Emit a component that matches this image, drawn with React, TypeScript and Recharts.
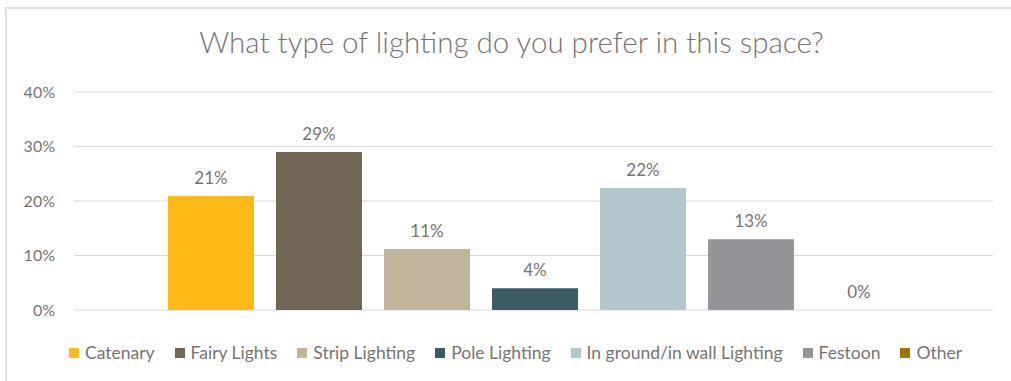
import { BarChart, Bar, XAxis, YAxis, CartesianGrid, LabelList } from 'recharts';

// lighting preference survey, one share per option
const OPTIONS = [
  'Catenary',
  'Fairy Lights',
  'Strip Lighting',
  'Pole Lighting',
  'In ground/in wall Lighting',
  'Festoon',
  'Other',
];
const SHARES = [0.209, 0.29, 0.112, 0.04, 0.224, 0.13, 0];
const COLORS = ['#FDB918', '#716556', '#C2B49A', '#3E5C68', '#B3C6CC', '#949598', '#A27500'];
const Y_TICKS = [0, 0.1, 0.2, 0.3, 0.4];

const TITLE = 'What type of lighting do you prefer in this space?';
const TEXT = '#787373';
const GRID = '#D9D9D9';
const FONT = 'Lato, "Open Sans", sans-serif';

const row: Record<string, string | number> = { name: 'all' };
OPTIONS.forEach((_, i) => { row[`s${i}`] = SHARES[i]; });
const chartData = [row];

const pct = (v: unknown) => `${Math.round(Number(v) * 100)}%`;

export default function App() {
  return (
    <div style={{ position: 'fixed', left: 0, top: 0, width: 1011, height: 381, background: '#fff', overflow: 'hidden', fontFamily: FONT }}>
      <div style={{ position: 'absolute', left: 5, top: 7, width: 1100, height: 420, border: '2px solid #E2E2E2', boxSizing: 'border-box' }} />
      <div style={{ position: 'absolute', left: 6, top: 24, width: 1011, textAlign: 'center', fontSize: 29.5, fontWeight: 300, color: TEXT }}>
        {TITLE}
      </div>
      <div style={{ position: 'absolute', left: 0, top: 0 }}>
        <BarChart
          width={1011}
          height={381}
          data={chartData}
          margin={{ top: 92, right: 18, bottom: 71, left: 0 }}
          barCategoryGap={94}
          barGap={22}
        >
          <CartesianGrid vertical={false} stroke={GRID} />
          <XAxis dataKey="name" hide />
          <YAxis
            width={74}
            domain={[0, 0.4]}
            ticks={Y_TICKS}
            tickFormatter={pct}
            axisLine={false}
            tickLine={false}
            tickSize={0}
            tickMargin={19}
            tick={{ fill: TEXT, fontSize: 16, fontFamily: FONT }}
          />
          {OPTIONS.map((name, i) => (
            // tiny minPointSize keeps the zero bar's label on screen
            <Bar key={name} dataKey={`s${i}`} name={name} fill={COLORS[i]} minPointSize={0.01} isAnimationActive={false}>
              <LabelList dataKey={`s${i}`} position="top" offset={12} formatter={pct} fill={TEXT} fontSize={17} fontFamily={FONT} />
            </Bar>
          ))}
        </BarChart>
      </div>
      <div style={{ position: 'absolute', left: 10, top: 342, width: 1011, display: 'flex', justifyContent: 'center', gap: 20, fontSize: 17.5, color: TEXT }}>
        {OPTIONS.map((name, i) => (
          <div key={name} style={{ display: 'flex', alignItems: 'center' }}>
            <span style={{ display: 'inline-block', width: 10, height: 10, background: COLORS[i], marginRight: 6 }} />
            <span>{name}</span>
          </div>
        ))}
      </div>
    </div>
  );
}
